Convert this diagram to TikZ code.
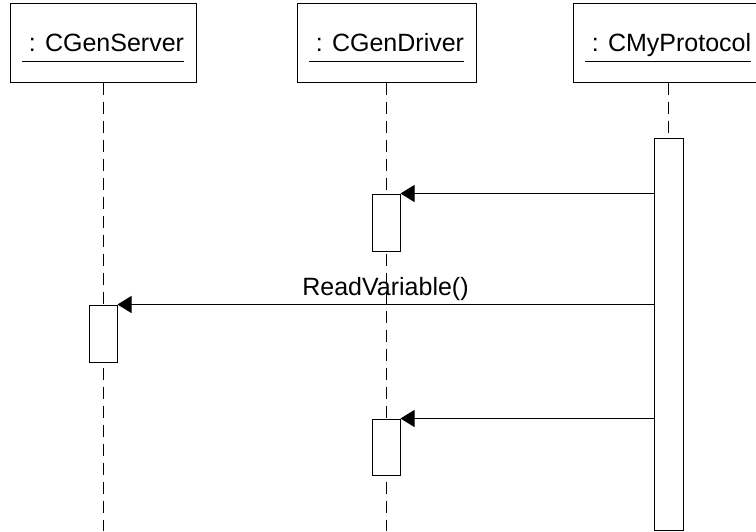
\documentclass[tikz,border=0pt]{standalone}
\usepackage{fontspec}
\setmainfont{Liberation Sans}
\usetikzlibrary{arrows.meta}
% object name, underlined from its leading space to its end
\newcommand\objname[1]{\setbox0\hbox{#1}\rlap{\rule[-10.5pt]{\wd0}{1pt}}\box0}
\begin{document}
\begin{tikzpicture}[x=1pt,y=-1pt,
  objbox/.style={draw, line width=1pt, minimum height=79pt, inner sep=0pt,
    text height=18.5pt, text depth=0pt, font=\fontsize{25}{30}\selectfont},
  lifeline/.style={line width=1pt, dash pattern=on 12pt off 7pt},
  act/.style={draw, fill=white, line width=1pt, inner sep=0pt},
  msg/.style={line width=1pt, -{Triangle[length=14pt,width=17pt]}},
  lbl/.style={font=\fontsize{25}{30}\selectfont, inner sep=0pt}]
\useasboundingbox (0,0) rectangle (756,531);

% object headers
\node[objbox, minimum width=186pt] (srv) at (103,42.5) {\objname{\ : CGenServer}};
\node[objbox, minimum width=179pt] (drv) at (386.5,42.5) {\objname{\ : CGenDriver}};
\node[objbox, minimum width=190pt] (prt) at (668,42.5) {\objname{\ : CMyProtocol}};

% lifeline ends
\coordinate (srvEnd) at (103,531);
\coordinate (drvEnd) at (386,531);
\coordinate (prtEnd) at (668,138);

\draw[lifeline] (srv.south) -- (srvEnd);
\draw[lifeline] (drv.south -| drvEnd) -- (drvEnd);
\draw[lifeline] (prt.south) -- (prtEnd);

% activation bars
\node[act, minimum width=29pt, minimum height=392pt] (bar) at (668.5,334) {};
\node[act, minimum width=28pt, minimum height=57pt] (a2) at (386,222.5) {};
\node[act, minimum width=28pt, minimum height=57pt] (a1) at (103,333.5) {};
\node[act, minimum width=28pt, minimum height=56pt] (a3) at (386,447) {};

% messages
\draw[msg] (bar.west |- a2.north) -- (a2.north east);
\draw[msg] (bar.west |- a1.north) -- node[lbl, pos=0.5, anchor=base, yshift=9pt] (rv) {ReadVariable()} (a1.north east);
\draw[msg] (bar.west |- a3.north) -- (a3.north east);
\end{tikzpicture}
\end{document}
